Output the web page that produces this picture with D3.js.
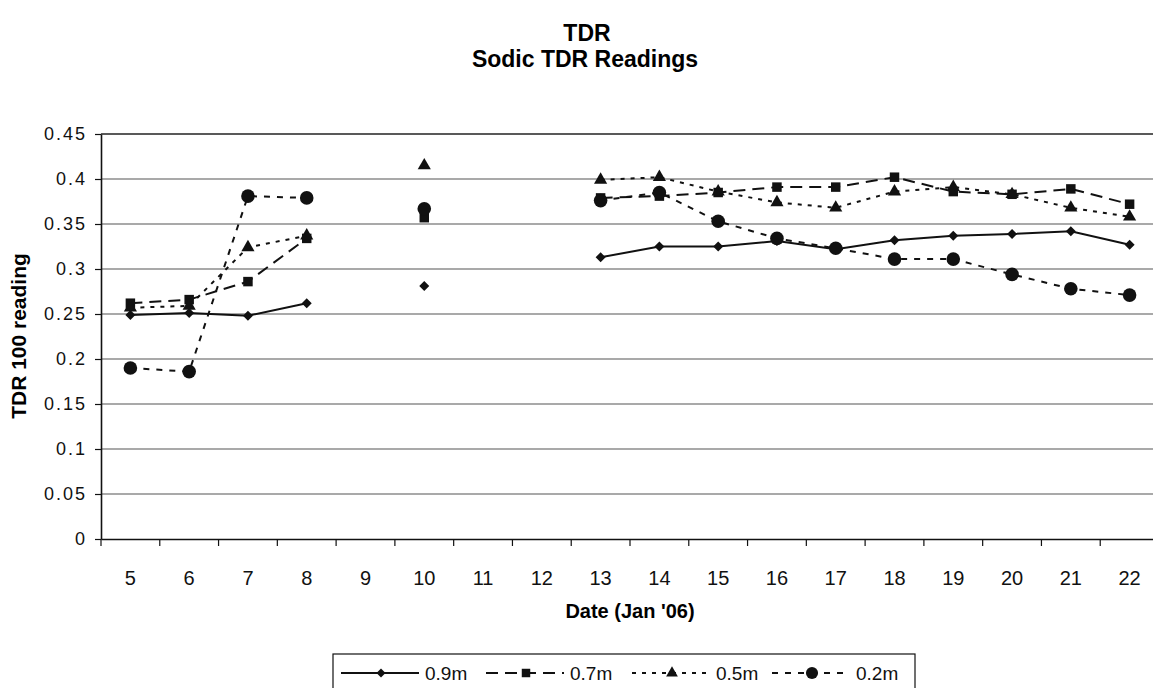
<!DOCTYPE html>
<html><head><meta charset="utf-8">
<script src="https://cdn.jsdelivr.net/npm/d3@7"></script>
<style>
body{margin:0;background:#fff;}
svg{font-family:"Liberation Sans",Arial,sans-serif;}
</style></head>
<body>
<svg id="chart" width="1153" height="688"></svg>
<script>
const dates = [5,6,7,8,9,10,11,12,13,14,15,16,17,18,19,20,21,22];
const yTicks = [0,0.05,0.1,0.15,0.2,0.25,0.3,0.35,0.4,0.45];
const seriesNames = ["0.9m","0.7m","0.5m","0.2m"];
const v09 = [0.249,0.251,0.248,0.262,null,0.281,null,null,0.313,0.325,0.325,0.331,0.322,0.332,0.337,0.339,0.342,0.327];
const v07 = [0.262,0.266,0.286,0.334,null,0.357,null,null,0.379,0.381,0.385,0.391,0.391,0.402,0.386,0.383,0.389,0.372];
const v05 = [0.257,0.259,0.324,0.337,null,0.415,null,null,0.399,0.402,0.386,0.374,0.368,0.386,0.391,0.383,0.368,0.358];
const v02 = [0.190,0.186,0.381,0.379,null,0.367,null,null,0.376,0.385,0.353,0.334,0.323,0.311,0.311,0.294,0.278,0.271];

const series = [
  {name:seriesNames[0], values:v09, dash:null, sym:d3.symbolSquare, size:50, rot:45},
  {name:seriesNames[1], values:v07, dash:"12,7", sym:d3.symbolSquare, size:90, rot:0},
  {name:seriesNames[2], values:v05, dash:"4,6", sym:d3.symbolTriangle, size:75, rot:0},
  {name:seriesNames[3], values:v02, dash:"6,7", sym:d3.symbolCircle, size:145, rot:0}
];

const svg = d3.select("#chart");
const x = d3.scaleBand().domain(dates).range([101,1159]).paddingInner(0).paddingOuter(0);
const y = d3.scaleLinear().domain([0,0.45]).range([539,134]);

// titles
svg.append("text").attr("x",587).attr("y",41).attr("text-anchor","middle")
  .attr("font-weight","bold").attr("font-size",23).text("TDR");
svg.append("text").attr("x",585).attr("y",67).attr("text-anchor","middle")
  .attr("font-weight","bold").attr("font-size",23).text("Sodic TDR Readings");

// gridlines
svg.append("g").selectAll("line").data(yTicks.filter(d=>d>0)).join("line")
  .attr("x1",101).attr("x2",1153).attr("y1",d=>y(d)).attr("y2",d=>y(d))
  .attr("stroke",d=>d===0.45?"#222":"#555").attr("stroke-width",d=>d===0.45?1.6:1.2);

// y axis
const yAxis = d3.axisLeft(y).tickValues(yTicks).tickFormat(d=>String(d)).tickSize(6).tickSizeOuter(0);
const gy = svg.append("g").attr("transform","translate(101,0)").call(yAxis);
gy.select(".domain").attr("stroke","#111").attr("stroke-width",1.6);
gy.selectAll(".tick line").attr("stroke","#111").attr("stroke-width",1.2);
gy.selectAll(".tick text").attr("font-size",18).attr("fill","#111").attr("x",-14)
  .attr("font-family","Liberation Sans, Arial, sans-serif").attr("letter-spacing","2px");

// x axis
const xAxis = d3.axisBottom(x).tickSize(0).tickSizeOuter(0);
const gx = svg.append("g").attr("transform",`translate(0,${y(0)})`).call(xAxis);
gx.select(".domain").attr("stroke","#111").attr("stroke-width",1.6);
gx.selectAll(".tick text").attr("font-size",20).attr("fill","#111").attr("y",46).attr("dy",null)
  .attr("font-family","Liberation Sans, Arial, sans-serif");
// boundary ticks
svg.append("g").selectAll("line").data(dates).join("line")
  .attr("x1",d=>x(d)).attr("x2",d=>x(d)).attr("y1",y(0)).attr("y2",y(0)+7)
  .attr("stroke","#111").attr("stroke-width",1.2);

// axis titles
svg.append("text").attr("transform","translate(26,336) rotate(-90)").attr("text-anchor","middle")
  .attr("font-weight","bold").attr("font-size",21).text("TDR 100 reading");
svg.append("text").attr("x",630).attr("y",618).attr("text-anchor","middle")
  .attr("font-weight","bold").attr("font-size",20).text("Date (Jan '06)");

// lines + markers
const cx = d => x(d) + x.bandwidth()/2;
series.forEach(s=>{
  const pts = dates.map((d,i)=>({d, v:s.values[i]}));
  const line = d3.line().defined(p=>p.v!==null).x(p=>cx(p.d)).y(p=>y(p.v));
  svg.append("path").datum(pts).attr("d",line).attr("fill","none")
    .attr("stroke","#111").attr("stroke-width",2)
    .attr("stroke-dasharray",s.dash);
  svg.append("g").selectAll("path").data(pts.filter(p=>p.v!==null)).join("path")
    .attr("d",d3.symbol().type(s.sym).size(s.size))
    .attr("transform",p=>`translate(${cx(p.d)},${y(p.v)}) rotate(${s.rot})`)
    .attr("fill","#111");
});

// legend
const lg = svg.append("g");
lg.append("rect").attr("x",333).attr("y",654).attr("width",582).attr("height",40)
  .attr("fill","#fff").attr("stroke","#111").attr("stroke-width",1.2);
const legX = [341,486,632,772];
series.forEach((s,i)=>{
  const x0 = legX[i], ym = 673;
  lg.append("line").attr("x1",x0).attr("x2",x0+78).attr("y1",ym).attr("y2",ym)
    .attr("stroke","#111").attr("stroke-width",2).attr("stroke-dasharray",s.dash);
  lg.append("path").attr("d",d3.symbol().type(s.sym).size(s.size*0.8))
    .attr("transform",`translate(${x0+40},${ym}) rotate(${s.rot})`).attr("fill","#111");
  lg.append("text").attr("x",x0+84).attr("y",ym+7).attr("font-size",19).attr("fill","#111").text(s.name);
});
</script>
</body></html>
